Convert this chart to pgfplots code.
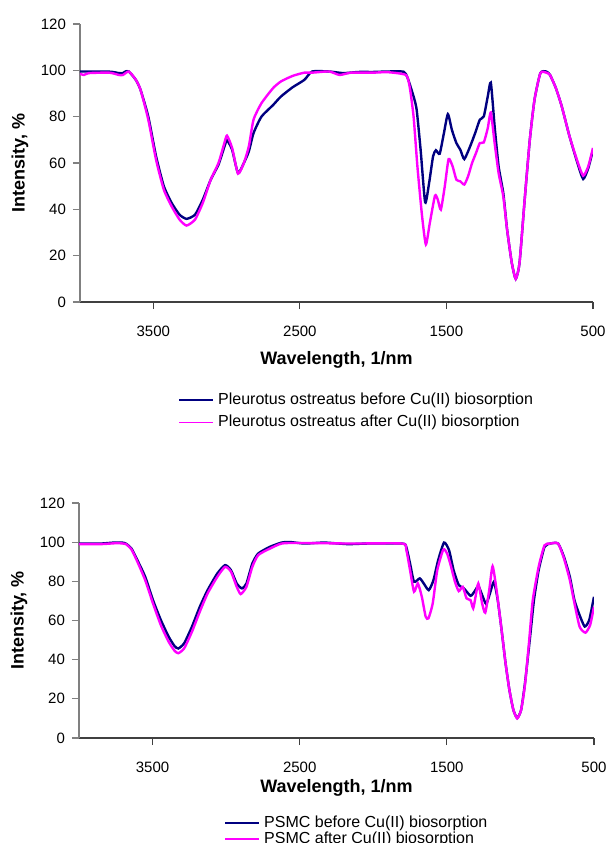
\documentclass[border=0pt]{standalone}
\usepackage{pgfplots}
\pgfplotsset{compat=1.18}
\usepackage{fontspec}
\setmainfont{Liberation Sans}
\definecolor{navyc}{RGB}{0,0,128}
\definecolor{magc}{RGB}{255,0,255}
\pgfplotsset{myaxis/.style={
  scale only axis, x dir=reverse, xmin=500, xmax=4000, ymin=0, ymax=120,
  xtick={500,1500,2500,3500}, ytick={0,20,...,120},
  axis x line*=bottom, axis y line*=left,
  tick align=outside, major tick length=3.5pt,
  x axis line style={black!75, line width=0.6pt, -},
  y axis line style={gray, line width=0.6pt, -},
  xtick style={black!75, line width=0.6pt},
  ytick style={gray, line width=0.6pt},
  /pgf/number format/assume math mode=true,
  /pgf/number format/1000 sep={},
  ticklabel style={font=\fontsize{7.5}{9}\selectfont},
  xticklabel style={yshift=-5pt},
  label style={font=\bfseries\fontsize{9}{11}\selectfont},
  ylabel style={at={(axis description cs:0,0.5)}, anchor=center, yshift=30pt},
  legend cell align=left,
  legend image code/.code={\draw[#1, line width=0.9pt] (0pt,0pt) -- (17pt,0pt);},
  legend style={draw=none, fill=none, anchor=north west, font=\fontsize{8}{9.5}\selectfont, inner sep=0pt, row sep=0pt},
  every axis plot/.append style={line width=1.2pt, smooth, tension=0.35, mark=none}
}}
\begin{document}
\begin{tikzpicture}
\path[use as bounding box] (0,0) rectangle (306pt,421.5pt);
% ---------------- top ----------------
\begin{axis}[myaxis, at={(40pt,270.5pt)}, anchor=south west, width=256.5pt, height=139pt,
  xlabel={Wavelength, 1/nm}, ylabel={Intensity, \%},
  xlabel style={at={(axis description cs:0.5,0)}, anchor=center, yshift=-29pt},
  legend style={at={(0.191,-0.31)}}]
\addplot[color=navyc] coordinates {
(4000,99.5) (3900,99.5) (3790,99.4) (3734,98.8) (3707,98.8) (3690,99.5) (3667,99.5) (3620,96) (3587,91.6) (3534,80) (3481,62.9) (3428,50) (3375,42.8) (3321,37.7) (3273,35.9) (3215,37.7) (3162,44.2) (3108,52.8) (3055,59.3) (3015,67) (2997,69.8) (2962,65.7) (2922,55.7) (2882,60) (2848,65) (2816,72.9) (2762,80) (2683,85) (2629,88.7) (2549,92.7) (2469,95.9) (2416,99.5) (2300,99.5) (2203,98.8) (2100,99.3) (2000,99.3) (1900,99.5) (1791,99.4) (1764,96.6) (1724,88.7) (1703,83) (1676,65.7) (1645,43) (1618,51.4) (1591,62.9) (1572,65.5) (1546,64) (1517,72.9) (1490,81.1) (1463,74.4) (1432,68.6) (1405,65.7) (1378,61.7) (1338,67.2) (1304,72.9) (1272,78.7) (1245,80.1) (1218,88.7) (1197,94.7) (1171,75.8) (1144,58.6) (1112,47) (1086,31.3) (1054,16.9) (1027,10) (1001,17) (966,44.2) (931,70) (899,87.3) (859,98.8) (819,99.5) (793,98) (753,92.3) (713,84.4) (660,71.5) (606,60) (567,53.1) (532,57.8) (500,65.7)
};
\addlegendentry{Pleurotus ostreatus before Cu(II) biosorption}
\addplot[color=magc] coordinates {
(4000,98.5) (3973,98) (3940,98.8) (3800,99) (3734,98) (3707,98) (3667,99.5) (3620,96) (3587,91.6) (3534,78.7) (3481,61.4) (3428,48.5) (3375,41.3) (3321,35.6) (3273,33) (3215,35.6) (3162,42.8) (3108,52.8) (3055,60) (3015,68.6) (2997,71.8) (2962,66.5) (2922,55.4) (2882,60) (2848,67.2) (2816,78.7) (2762,85.8) (2683,92.3) (2629,95.2) (2549,97.6) (2469,99) (2416,99) (2300,99.5) (2229,98) (2150,99) (2000,99) (1900,99.2) (1777,98) (1751,93) (1724,80) (1698,58.6) (1666,37) (1640,24.8) (1613,34.2) (1578,45.9) (1559,44.2) (1538,39.9) (1511,50) (1485,61.7) (1458,58.6) (1432,52.8) (1405,52.1) (1378,50.7) (1352,54.3) (1325,60) (1298,64.3) (1272,68.6) (1245,68.9) (1218,75) (1197,81.8) (1171,68.6) (1144,55.7) (1112,45.6) (1086,31.3) (1054,16.9) (1027,10) (1001,17) (966,44.2) (931,70) (899,87.3) (859,98.8) (819,99) (793,98) (753,92.3) (713,84.4) (660,71.5) (606,60.7) (567,54.5) (532,58.6) (500,66.5)
};
\addlegendentry{Pleurotus ostreatus after Cu(II) biosorption}
\end{axis}
% ---------------- bottom ----------------
\begin{axis}[myaxis, at={(39.5pt,52.5pt)}, anchor=south west, width=257.5pt, height=117.5pt,
  xlabel={Wavelength, 1/nm}, ylabel={Intensity, \%},
  xlabel style={at={(axis description cs:0.5,0)}, anchor=center, yshift=-25pt},
  legend style={at={(0.2816,-0.311)}, row sep=-3pt}]
\addplot[color=navyc] coordinates {
(4000,99.3) (3850,99.3) (3762,99.8) (3709,99.8) (3682,99.3) (3643,96.7) (3603,90.8) (3550,82.3) (3497,70.4) (3444,60.3) (3391,51.8) (3351,47) (3325,45.7) (3285,48.4) (3232,56.9) (3179,67) (3126,75.5) (3060,84) (3007,88.3) (2967,85.7) (2928,78.9) (2893,76.4) (2862,78.9) (2822,89.1) (2782,94.2) (2703,97.6) (2623,99.8) (2570,100.1) (2465,99.3) (2332,99.8) (2173,99) (2041,99.3) (1803,99.3) (1776,97.6) (1750,89.1) (1723,79.8) (1684,81.5) (1657,78.9) (1623,75.5) (1591,80.6) (1559,90.8) (1519,99.8) (1485,95.9) (1454,85.7) (1419,78.1) (1384,76.4) (1339,72.6) (1313,74.7) (1286,77.6) (1260,73) (1233,68.4) (1207,73.8) (1180,79.8) (1154,70.4) (1128,55.2) (1101,38.2) (1075,24.6) (1048,14.4) (1022,10.2) (995,14.4) (969,28) (934,51.8) (908,70.4) (876,85.7) (836,97.6) (797,99.3) (744,99.3) (704,92.5) (664,82.3) (633,70.4) (598,62.8) (563,56.9) (532,60.3) (500,72.1)
};
\addlegendentry{PSMC before Cu(II) biosorption}
\addplot[color=magc] coordinates {
(4000,99) (3850,99) (3740,99.5) (3682,99) (3643,96.2) (3603,90) (3550,80.6) (3497,68.7) (3444,57.7) (3391,49.2) (3351,44.6) (3325,43.3) (3285,45.8) (3232,54.3) (3179,64.5) (3126,73.8) (3060,82.3) (3007,87.4) (2967,84.9) (2928,77.2) (2901,73.5) (2862,77.2) (2822,87.4) (2782,93.4) (2703,96.7) (2623,99.3) (2517,99.6) (2150,99.3) (1803,99.3) (1776,96.2) (1750,85.7) (1723,74.7) (1697,78.9) (1670,72.1) (1644,62) (1625,61.1) (1596,68.7) (1565,85.7) (1524,96.2) (1498,94.2) (1471,87.4) (1445,79.8) (1419,75) (1392,77.2) (1366,71.3) (1339,70.4) (1321,66.2) (1305,72.1) (1286,78.9) (1260,68.7) (1239,64) (1212,75.5) (1189,87.7) (1162,75.5) (1128,55.2) (1101,38.2) (1075,24.6) (1048,14.4) (1022,10) (995,14.4) (969,27.2) (942,48.4) (916,70.4) (876,87.4) (836,98.4) (797,99.3) (744,99.3) (704,91.7) (664,80.6) (637,70.4) (598,56.9) (558,53.8) (526,57.7) (500,67)
};
\addlegendentry{PSMC after Cu(II) biosorption}
\end{axis}
\end{tikzpicture}
\end{document}
